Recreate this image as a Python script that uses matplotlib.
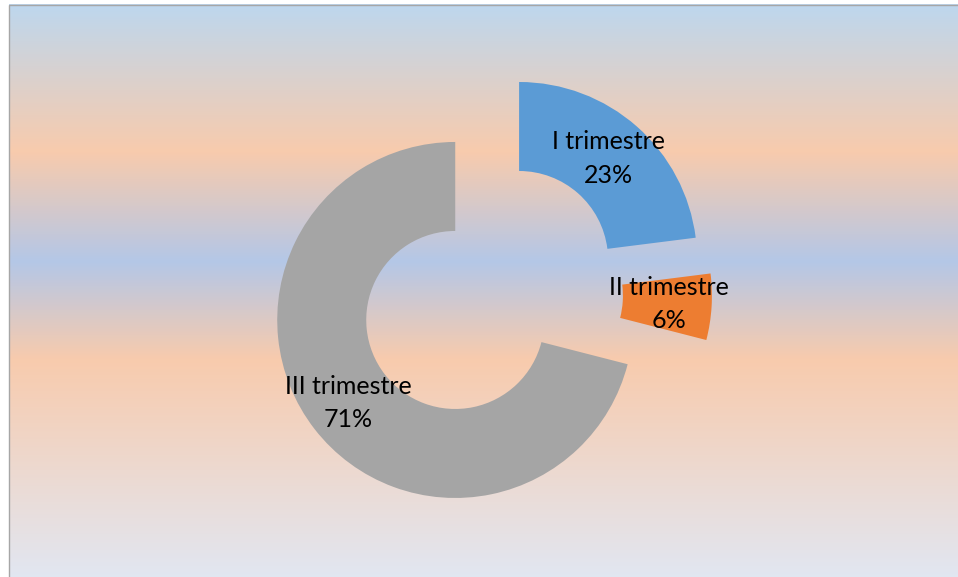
import matplotlib
matplotlib.use("Agg")
import matplotlib.pyplot as plt
import matplotlib.colors as mcolors
import numpy as np
from matplotlib.patches import Rectangle

# data
quarters = ["I trimestre", "II trimestre", "III trimestre"]
shares = [23, 6, 71]
colors = ["#5B9BD5", "#ED7D31", "#A5A5A5"]

# background gradient stops (fraction from top, colour)
grad_stops = [0.0, 0.255, 0.445, 0.615, 1.0]
grad_colors = ["#BDD7EE", "#F8CBAD", "#B4C7E7", "#F8CBAD", "#E1E7F3"]

W, H = 958, 577


def main():
    fig = plt.figure(figsize=(W / 100, H / 100), dpi=100)
    ax = fig.add_axes([0, 0, 1, 1])

    # vertical gradient fill of the chart area
    n = 600
    t = np.linspace(0, 1, n)
    rgb = np.array([mcolors.to_rgb(c) for c in grad_colors])
    col = np.stack([np.interp(t, grad_stops, rgb[:, k]) for k in range(3)], axis=1)
    top = H - 4.5
    ax.imshow(col[:, None, :], extent=(9, W + 5, -5, top), aspect="auto",
              interpolation="bilinear", zorder=0)
    ax.add_patch(Rectangle((9, -20), W + 40, top + 20, fill=False,
                           edgecolor="#A6A6A6", lw=1.0, zorder=1))

    names = iter(quarters)
    ax.pie(shares, colors=colors, startangle=90, counterclock=False,
           center=(490, H - 293), radius=178, explode=[44] * len(shares),
           wedgeprops=dict(width=89, edgecolor="none"),
           autopct=lambda p: f"{next(names)}\n{p:.0f}%", pctdistance=0.76,
           textprops=dict(fontsize=18, family="Lato", color="black",
                          linespacing=1.55))

    ax.set_xlim(0, W)
    ax.set_ylim(0, H)
    ax.set_aspect("equal")
    ax.axis("off")
    fig.patch.set_facecolor("white")

    fig.savefig("out.png", dpi=100)


if __name__ == "__main__":
    main()
